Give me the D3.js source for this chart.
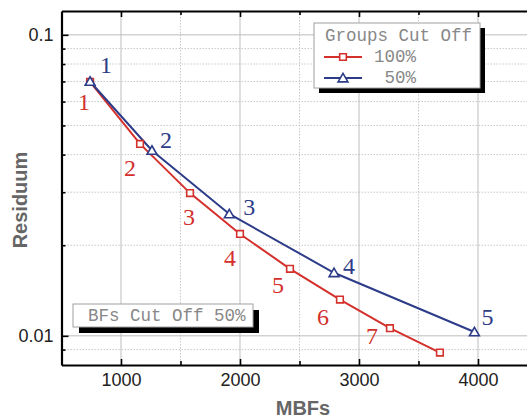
<!DOCTYPE html>
<html>
<head>
<meta charset="utf-8">
<script src="https://cdn.jsdelivr.net/npm/d3@7"></script>
<style>
  html, body { margin: 0; padding: 0; background: #fff; }
  svg { display: block; }
</style>
</head>
<body>
<div id="chart"></div>
<script>
// ---------- data ----------
const seriesNames = ["100%", "50%"];
const redX = [740, 1160, 1580, 2000, 2420, 2840, 3260, 3680];
const redY = [0.0698, 0.0434, 0.0298, 0.0218, 0.0167, 0.0132, 0.0106, 0.0088];
const redLabels = ["1", "2", "3", "4", "5", "6", "7", ""];
const blueX = [740, 1260, 1910, 2790, 3970];
const blueY = [0.0700, 0.0413, 0.0254, 0.0162, 0.0103];
const blueLabels = ["1", "2", "3", "4", "5"];
const xMajorTicks = [1000, 2000, 3000, 4000];
const xMinorTicks = [1500, 2500, 3500];
const yMajorTicks = [0.1, 0.01];
const yMajorLabels = ["0.1", "0.01"];
const yMinorTicks = [0.009, 0.02, 0.03, 0.04, 0.05, 0.06, 0.07, 0.08, 0.09];
const legendTitle = "Groups Cut Off";
const noteText = "BFs Cut Off 50%";
const xTitle = "MBFs";
const yTitle = "Residuum";

// label nudges (annotation placement, px)
const redNudge = [[-6, 20], [-10, 24], [-1, 24], [-10, 24], [-12, 16], [-17, 17], [-18, 8], [0, 0]];
const blueNudge = [[16, -16], [14, -10], [20, -7], [15, -7], [13, -15]];

// ---------- layout ----------
const W = 527, H = 418;
const pLeft = 61.5, pRight = 537.5, pTop = 11, pBottom = 365;
const RED = "#d4302c", BLUE = "#2d3c88";

const svg = d3.select("#chart").append("svg").attr("width", W).attr("height", H);

const x = d3.scaleLinear().domain([500, 4500]).range([pLeft, pRight]);
const y = d3.scaleLog().domain([0.008, 0.12]).range([pBottom, pTop]);

// grid
const grid = svg.append("g");
grid.selectAll(".gxmin").data(xMinorTicks).enter().append("line")
  .attr("x1", d => x(d)).attr("x2", d => x(d)).attr("y1", pTop).attr("y2", pBottom)
  .attr("stroke", "#c8c8c8").attr("stroke-width", 1).attr("stroke-dasharray", "1.5,1.5");
grid.selectAll(".gymin").data(yMinorTicks).enter().append("line")
  .attr("y1", d => y(d)).attr("y2", d => y(d)).attr("x1", pLeft).attr("x2", pRight)
  .attr("stroke", "#c8c8c8").attr("stroke-width", 1).attr("stroke-dasharray", "1.5,1.5");
grid.selectAll(".gxmaj").data(xMajorTicks).enter().append("line")
  .attr("x1", d => x(d)).attr("x2", d => x(d)).attr("y1", pTop).attr("y2", pBottom)
  .attr("stroke", "#bdbdbd").attr("stroke-width", 1);
grid.selectAll(".gymaj").data(yMajorTicks).enter().append("line")
  .attr("y1", d => y(d)).attr("y2", d => y(d)).attr("x1", pLeft).attr("x2", pRight)
  .attr("stroke", "#bdbdbd").attr("stroke-width", 1);

// axes
function styleAxis(g) {
  g.select(".domain").attr("stroke", "#000").attr("stroke-width", 2.2);
  g.selectAll(".tick line").attr("stroke", "#000").attr("stroke-width", 1.6);
  g.selectAll("text").attr("fill", "#222").attr("font-family", "Liberation Sans, Arial, sans-serif").attr("font-size", 18);
}
const xAxis = svg.append("g").attr("transform", `translate(0,${pBottom})`)
  .call(d3.axisBottom(x).tickValues(xMajorTicks).tickSizeInner(-6).tickSizeOuter(0).tickPadding(8).tickFormat(d3.format("d")));
styleAxis(xAxis);
const xAxisMin = svg.append("g").attr("transform", `translate(0,${pBottom})`)
  .call(d3.axisBottom(x).tickValues(xMinorTicks).tickSizeInner(-4).tickSizeOuter(0).tickFormat(""));
styleAxis(xAxisMin); xAxisMin.select(".domain").remove();

const xTop = svg.append("g").attr("transform", `translate(0,${pTop})`)
  .call(d3.axisTop(x).tickValues(xMajorTicks).tickSizeInner(-6).tickSizeOuter(0).tickFormat(""));
styleAxis(xTop);
const xTopMin = svg.append("g").attr("transform", `translate(0,${pTop})`)
  .call(d3.axisTop(x).tickValues(xMinorTicks).tickSizeInner(-4).tickSizeOuter(0).tickFormat(""));
styleAxis(xTopMin); xTopMin.select(".domain").remove();

const yAxis = svg.append("g").attr("transform", `translate(${pLeft},0)`)
  .call(d3.axisLeft(y).tickValues(yMajorTicks).tickSizeInner(-7).tickSizeOuter(0).tickPadding(8)
    .tickFormat((d, i) => yMajorLabels[i]));
styleAxis(yAxis);
const yAxisMin = svg.append("g").attr("transform", `translate(${pLeft},0)`)
  .call(d3.axisLeft(y).tickValues(yMinorTicks).tickSizeInner(-4).tickSizeOuter(0).tickFormat(""));
styleAxis(yAxisMin); yAxisMin.select(".domain").remove();

// axis titles
svg.append("text").attr("x", 303).attr("y", 415).attr("text-anchor", "middle")
  .attr("font-family", "Liberation Sans, Arial, sans-serif").attr("font-weight", "bold")
  .attr("font-size", 20).attr("fill", "#666").text(xTitle);
svg.append("text").attr("transform", "translate(27,200) rotate(-90)").attr("text-anchor", "middle")
  .attr("font-family", "Liberation Sans, Arial, sans-serif").attr("font-weight", "bold")
  .attr("font-size", 20).attr("fill", "#666").text(yTitle);

// series
const redData = redX.map((v, i) => ({ x: v, y: redY[i], label: redLabels[i], n: redNudge[i] }));
const blueData = blueX.map((v, i) => ({ x: v, y: blueY[i], label: blueLabels[i], n: blueNudge[i] }));
const line = d3.line().x(d => x(d.x)).y(d => y(d.y));

svg.append("path").datum(redData).attr("d", line).attr("fill", "none").attr("stroke", RED).attr("stroke-width", 2);
svg.append("path").datum(blueData).attr("d", line).attr("fill", "none").attr("stroke", BLUE).attr("stroke-width", 2);

const sq = d3.symbol().type(d3.symbolSquare).size(44);
const tri = d3.symbol().type(d3.symbolTriangle).size(42);

svg.selectAll(".rm").data(redData).enter().append("path")
  .attr("d", sq).attr("transform", d => `translate(${x(d.x)},${y(d.y)})`)
  .attr("fill", "#fff").attr("stroke", RED).attr("stroke-width", 1.6);
svg.selectAll(".bm").data(blueData).enter().append("path")
  .attr("d", tri).attr("transform", d => `translate(${x(d.x)},${y(d.y) + 1})`)
  .attr("fill", "#fff").attr("stroke", BLUE).attr("stroke-width", 1.6);

svg.selectAll(".rl").data(redData).enter().append("text")
  .attr("x", d => x(d.x) + d.n[0]).attr("y", d => y(d.y) + d.n[1])
  .attr("text-anchor", "middle").attr("dominant-baseline", "central")
  .attr("font-family", "Liberation Serif, Times New Roman, serif").attr("font-size", 24)
  .attr("fill", RED).text(d => d.label);
svg.selectAll(".bl").data(blueData).enter().append("text")
  .attr("x", d => x(d.x) + d.n[0]).attr("y", d => y(d.y) + d.n[1])
  .attr("text-anchor", "middle").attr("dominant-baseline", "central")
  .attr("font-family", "Liberation Serif, Times New Roman, serif").attr("font-size", 24)
  .attr("fill", BLUE).text(d => d.label);

// legend box
const mono = "Liberation Mono, Courier New, monospace";
const lg = svg.append("g");
lg.append("rect").attr("x", 319).attr("y", 28).attr("width", 166).attr("height", 65).attr("fill", "#000");
lg.append("rect").attr("x", 314).attr("y", 23).attr("width", 166).attr("height", 65)
  .attr("fill", "#fff").attr("stroke", "#a0a0a0").attr("stroke-width", 1);
lg.append("text").attr("x", 325).attr("y", 41).attr("font-family", mono).attr("font-size", 17.5)
  .attr("fill", "#888").text(legendTitle);
const legendRows = [
  { name: seriesNames[0], color: RED, sym: sq, yy: 57 },
  { name: seriesNames[1], color: BLUE, sym: tri, yy: 78 }
];
legendRows.forEach(r => {
  lg.append("line").attr("x1", 324).attr("x2", 362).attr("y1", r.yy).attr("y2", r.yy)
    .attr("stroke", r.color).attr("stroke-width", 2);
  lg.append("path").attr("d", r.sym).attr("transform", `translate(343,${r.yy + (r.sym === tri ? 1 : 0)})`)
    .attr("fill", "#fff").attr("stroke", r.color).attr("stroke-width", 1.6);
  lg.append("text").attr("x", 374).attr("y", r.yy + 5).attr("font-family", mono).attr("font-size", 17.5)
    .attr("fill", "#888").attr("xml:space", "preserve").text(r.name.length < 4 ? " " + r.name : r.name);
});

// note box
const nb = svg.append("g");
nb.append("rect").attr("x", 79).attr("y", 310).attr("width", 180).attr("height", 23).attr("fill", "#000");
nb.append("rect").attr("x", 73).attr("y", 304).attr("width", 180).attr("height", 23)
  .attr("fill", "#fff").attr("stroke", "#a0a0a0").attr("stroke-width", 1);
nb.append("text").attr("x", 88).attr("y", 321).attr("font-family", mono).attr("font-size", 17.5)
  .attr("fill", "#888").text(noteText);
</script>
</body>
</html>
